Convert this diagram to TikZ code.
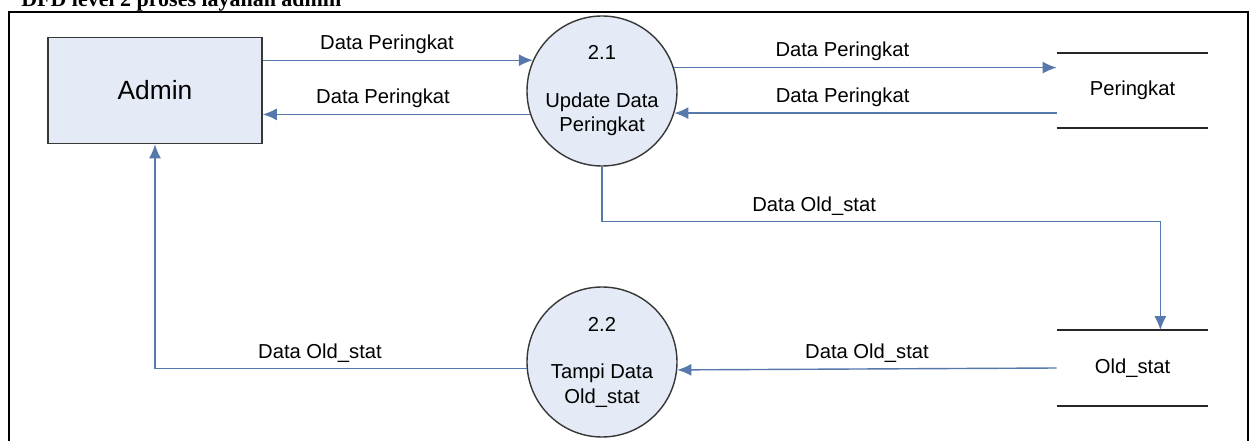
\documentclass[tikz,border=0pt]{standalone}
\usepackage{fontspec}
\setmainfont{Liberation Sans}
\newfontfamily\titlefont{Liberation Serif}
\usetikzlibrary{arrows.meta,calc,positioning}
\definecolor{dfdFill}{RGB}{228,235,246}
\definecolor{dfdLine}{RGB}{86,120,170}
\definecolor{dfdEdge}{RGB}{55,55,55}
\tikzstyle{dfdEntity}=[draw=dfdEdge, fill=dfdFill, line width=0.9pt, minimum width=4.28cm, minimum height=2.12cm, font=\fontsize{15}{18}\selectfont]
\tikzstyle{dfdProcess}=[draw=dfdEdge, fill=dfdFill, circle, line width=0.8pt, minimum size=3cm, inner sep=0pt, align=center, font=\fontsize{11.5}{14}\selectfont]
\tikzstyle{dfdStore}=[minimum width=3.02cm, minimum height=1.5cm, font=\fontsize{11.5}{14}\selectfont]
\tikzstyle{dfdStoreLine}=[line width=1pt, draw=black!85]
\tikzstyle{dfdFlow}=[line width=0.8pt, draw=dfdLine, -{Latex[length=2.8mm,width=2.4mm]}]
\tikzstyle{flowLabel}=[above, font=\fontsize{11.5}{14}\selectfont]

\begin{document}
\begin{tikzpicture}[x=0.2mm, y=-0.2mm]
    \useasboundingbox (0,0) rectangle (1250,441);

    % Title and Frame
    \node[anchor=base west, inner sep=0pt, font=\fontsize{12.5}{15}\titlefont\bfseries] (title) at (21,7) {DFD level 2 proses layanan admin};
    \draw[line width=1.2pt] (9,470) |- (1248,12) -- (1248,470);

    % Entity and Process Nodes
    \node[dfdEntity] (admin) at (155,90.5) {Admin};
    \node[dfdProcess] (p21) at (602,91) {2.1\\[13pt]Update Data\\Peringkat};
    \node[dfdProcess] (p22) at (602,362) {2.2\\[13pt]Tampi Data\\Old\_stat};

    % Data Stores
    \node[dfdStore] (peringkat) at (1132.5,90.5) {Peringkat};
    \node[dfdStore] (oldstat) at (1132.5,368) {Old\_stat};
    \draw[dfdStoreLine] (peringkat.north west) -- (peringkat.north east);
    \draw[dfdStoreLine] (peringkat.south west) -- (peringkat.south east);
    \draw[dfdStoreLine] (oldstat.north west) -- (oldstat.north east);
    \draw[dfdStoreLine] (oldstat.south west) -- (oldstat.south east);
    \coordinate (osIn) at ($(oldstat.north east)+(-48,0)$);

    % Flows
    \draw[dfdFlow] (admin.east |- p21.156) -- node[flowLabel, pos=0.46] (f1) {Data Peringkat} (p21.156);
    \draw[dfdFlow] (p21.198) -- node[flowLabel, pos=0.55] (f2) {Data Peringkat} (admin.east |- p21.198);
    \draw[dfdFlow] (p21.18) -- node[flowLabel, pos=0.44] (f3) {Data Peringkat} (peringkat.west |- p21.18);
    \draw[dfdFlow] (peringkat.west |- p21.343) -- node[flowLabel, pos=0.56] (f4) {Data Peringkat} (p21.343);
    \draw[dfdFlow] (p21.south) -- ++(0,55) -| node[flowLabel, pos=0.19] (f5) {Data Old\_stat} (osIn);
    \draw[dfdFlow] (oldstat.west) -- node[flowLabel, pos=0.5] (f6) {Data Old\_stat} (p22.354);
    \draw[dfdFlow] (p22.185) -| node[flowLabel, pos=0.278] (f7) {Data Old\_stat} (admin.south);

\end{tikzpicture}
\end{document}
